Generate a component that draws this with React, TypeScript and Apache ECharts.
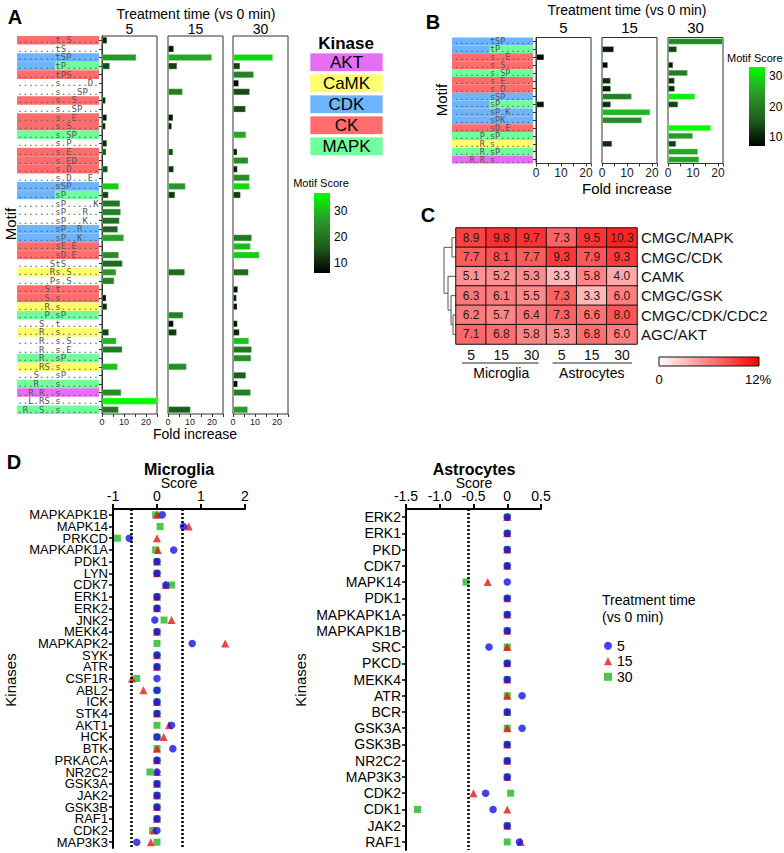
import { useEffect, useRef } from "react";
import * as echarts from "echarts";

const FF = "'Liberation Sans', Arial, Helvetica, sans-serif";
const MONO = "'DejaVu Sans Mono', 'Liberation Mono', monospace";

const kinaseNames = ["AKT", "CaMK", "CDK", "CK", "MAPK"];
const kinaseColors: Record<string, string> = {
  AKT: "#e46ff2",
  CaMK: "#ffff6e",
  CDK: "#6db5ff",
  CK: "#ff6d6d",
  MAPK: "#70ff9c",
};

// ---------- Panel A ----------
const motifsA = [
  ".......t.S.....", ".......tS......", ".......tSP.....", ".......tP......", ".......tPS.....",
  ".......s.....D.", ".......s...SP..", ".......s..S....", ".......s..SP...", ".......s..E....",
  ".......s.S.....", ".......s.SP....", ".......s.P.....", ".......s.E.....", ".......s.ED....",
  ".......s.D.....", ".......s.D...E.", ".......sSP.....", ".......sP......", ".......sP.....K",
  ".......sP...R..", ".......sP...K..", ".......sP..R...", ".......sP..K...", ".......sE.E....",
  ".......sD.E....", "......StS......", "......Rs.S.....", "......Ps.S.....", ".....S.t.......",
  ".....S.s.......", ".....R.s.......", ".....P.sP......", "....S..t.......", "....R..s.......",
  "....R..s.S.....", "....R..s.E.....", "....R..sP......", "....RS.s.......", "...S...sP......",
  "...R...s.......", "..R.R..s.......", "..L.RS.s.......", ".R..S..s.......",
];
const kinaseA = [
  "CK", "", "CDK", "CDK/MAPK", "CK",
  "", "", "CK", "", "CK",
  "CK", "MAPK", "", "CK", "CK",
  "CK", "", "CDK", "CDK/MAPK", "",
  "", "", "CDK", "CDK", "CK",
  "CK", "", "CaMK", "", "CK",
  "CK", "CaMK", "MAPK", "", "CaMK",
  "", "", "MAPK", "CaMK", "",
  "MAPK", "AKT", "", "MAPK",
];
const foldA5 = [
  2.4, null, 15.6, 3.6, null, null, null, 1.7, null, 2.3,
  1.7, null, 2.3, 2.0, null, 2.7, null, 7.7, 3.0, 8.3,
  8.6, 8.0, 7.3, 10.0, null, 7.7, 9.4, 6.5, 5.6, null,
  2.0, 2.4, null, null, 3.2, 6.6, 9.3, null, 7.1, null,
  null, 8.8, 25, 7.6,
];
const scoreA5 = [
  9, null, 26, 14, null, null, null, 9, null, 8,
  9, null, 10, 15, null, 15, null, 32, 13, 20,
  22, 19, 17, 27, null, 24, 18, 26, 22, null,
  7, 11, null, null, 13, 30, 21, null, 31, null,
  null, 24, 37, 20,
];
const foldA15 = [
  null, 2.7, 20, 4.2, null, null, 6.7, null, null, 2.4,
  1.8, null, null, 2.4, null, 2.7, null, 8.0, 3.3, null,
  null, null, null, null, null, null, null, 7.7, null, null,
  null, null, 7.0, 2.6, 4.0, null, null, null, 8.5, null,
  null, null, null, 10.3,
];
const scoreA15 = [
  null, 8, 28, 13, null, null, 22, null, null, 7,
  9, null, null, 14, null, 11, null, 26, 12, null,
  null, null, null, null, null, null, null, 18, null, null,
  null, null, 22, 6, 12, null, null, null, 24, null,
  null, null, null, 16,
];
const foldA30 = [
  null, null, 18.2, 3.3, 9.5, 2.7, 7.7, null, 5.8, null,
  null, 6.0, null, 2.0, 7.0, 2.1, 7.6, 7.6, 3.5, null,
  null, null, null, 8.6, 8.0, 12.0, null, 7.1, null, 2.3,
  1.7, 2.0, null, 2.1, 3.0, 7.3, 8.6, 8.3, null, 6.0,
  2.2, 8.1, null, 6.8,
];
const scoreA30 = [
  null, null, 33, 13, 22, 6, 14, null, 14, null,
  null, 28, null, 9, 24, 9, 24, 33, 12, null,
  null, null, null, 20, 30, 32, null, 18, null, 8,
  7, 8, null, 7, 10, 31, 20, 24, null, 16,
  6, 22, null, 27,
];

// ---------- Panel B ----------
const motifsB = [
  ".......tSP.....", ".......tP......", ".......s..E....", ".......s.S.....",
  ".......s.SP....", ".......s.E.....", ".......s.D.....", ".......sSP.....",
  ".......sP......", ".......sP.K....", ".......sPK.....", ".......sD.E....",
  ".....P.sP......", ".....R.s.......", ".....R.sP......", "...R.R.s.......",
];
const kinaseB = [
  "CDK", "CDK/MAPK", "CK", "CK", "MAPK", "CK", "CK", "CDK",
  "CDK/MAPK", "CDK", "CDK", "CK", "MAPK", "CaMK", "MAPK", "AKT",
];
const foldB5 = [null, null, 3.3, null, null, null, null, null, 3.3, null, null, null, null, null, null, null];
const scoreB5 = [null, null, 7, null, null, null, null, null, 9, null, null, null, null, null, null, null];
const foldB15 = [null, 4.8, null, 2.4, null, 3.5, 3.6, 11.9, 3.6, 19.3, 16.0, null, null, 4.1, null, null];
const scoreB15 = [null, 9, null, 7, null, 11, 9, 20, 11, 27, 22, null, null, 11, null, null];
const foldB30 = [22, 3.6, null, 2.1, 7.9, 2.7, 2.8, 10.8, 4.1, null, null, 17.2, 10.0, 3.3, 12.0, 12.5];
const scoreB30 = [22, 13, null, 9, 20, 11, 11, 32, 13, null, null, 33, 24, 13, 25, 25];

// ---------- Panel C ----------
const heatRows = ["CMGC/MAPK", "CMGC/CDK", "CAMK", "CMGC/GSK", "CMGC/CDK/CDC2", "AGC/AKT"];
const heatCols = ["5", "15", "30", "5", "15", "30"];
const heatValues = [
  [8.9, 9.8, 9.7, 7.3, 9.5, 10.3],
  [7.7, 8.1, 7.7, 9.3, 7.9, 9.3],
  [5.1, 5.2, 5.3, 3.3, 5.8, 4.0],
  [6.3, 6.1, 5.5, 7.3, 3.3, 6.0],
  [6.2, 5.7, 6.4, 7.3, 6.6, 8.0],
  [7.1, 6.8, 5.8, 5.3, 6.8, 6.0],
];

// ---------- Panel D ----------
const microKinases = [
  "MAPKAPK1B", "MAPK14", "PRKCD", "MAPKAPK1A", "PDK1", "LYN", "CDK7", "ERK1", "ERK2", "JNK2",
  "MEKK4", "MAPKAPK2", "SYK", "ATR", "CSF1R", "ABL2", "ICK", "STK4", "AKT1", "HCK",
  "BTK", "PRKACA", "NR2C2", "GSK3A", "JAK2", "GSK3B", "RAF1", "CDK2", "MAP3K3",
];
const micro5 = [0.12, 0.6, -0.63, 0.38, 0, 0, 0.2, 0, 0, -0.05, 0, 0.8, 0, 0, 0, 0, 0, 0, 0.33, 0, 0.36, 0, 0, 0, 0, 0, 0, 0, -0.46];
const micro15 = [0, 0.72, 0, 0.02, 0, 0, 0.2, 0, 0, 0.33, 0, 1.55, 0, 0, -0.57, -0.31, 0, 0, 0.27, 0.15, 0, 0, 0, 0, 0, 0, 0, -0.07, -0.14];
const micro30 = [-0.03, 0.07, -0.9, -0.03, 0, 0, 0.33, 0, 0, 0.16, 0, 0, 0, 0, -0.46, 0, 0, 0, 0, 0, 0, 0, -0.16, 0, 0, 0, 0, -0.1, 0];
const astroKinases = [
  "ERK2", "ERK1", "PKD", "CDK7", "MAPK14", "PDK1", "MAPKAPK1A", "MAPKAPK1B", "SRC", "PKCD",
  "MEKK4", "ATR", "BCR", "GSK3A", "GSK3B", "NR2C2", "MAP3K3", "CDK2", "CDK1", "JAK2", "RAF1",
];
const astro5 = [0, 0, 0, 0, 0, 0, 0, 0, -0.27, 0, 0, 0.22, 0, 0.22, 0, 0, 0, -0.32, -0.21, 0, 0.18];
const astro15 = [0, 0, 0, 0, -0.29, 0, 0, 0, 0, 0, 0, 0, 0, 0, 0, 0, 0, -0.5, 0, 0, 0.2];
const astro30 = [0, 0, 0, 0, -0.61, 0, 0, 0, 0, 0, 0, 0, 0, 0, 0, 0, 0, 0.05, -1.33, 0, 0];
const cutoff = 0.58;

const greenStops = ["#000000", "#1f5f1f", "#2a9a2a", "#00ff00"];

function barData(fold: (number | null)[], score: (number | null)[]) {
  const out: number[][] = [];
  fold.forEach((v, i) => {
    if (v != null) out.push([v, i, score[i] as number]);
  });
  return out;
}

function motifRenderer(motifs: string[], kinases: string[], nChars: number, fontSize: number) {
  return (_params: any, api: any) => {
    const i = api.value(1);
    const a = api.coord([0, i]);
    const b = api.coord([nChars, i]);
    const split = api.coord([7, i]);
    const h = api.size([0, 1])[1];
    const y0 = a[1] - h / 2;
    const children: any[] = [];
    const ks = kinases[i] ? kinases[i].split("/") : [];
    if (ks.length === 1) {
      children.push({ type: "rect", shape: { x: a[0], y: y0, width: b[0] - a[0], height: h }, style: { fill: kinaseColors[ks[0]] } });
    } else if (ks.length === 2) {
      children.push({ type: "rect", shape: { x: a[0], y: y0, width: split[0] - a[0], height: h }, style: { fill: kinaseColors[ks[0]] } });
      children.push({ type: "rect", shape: { x: split[0], y: y0, width: b[0] - split[0], height: h }, style: { fill: kinaseColors[ks[1]] } });
    }
    children.push({
      type: "text",
      style: {
        text: motifs[i], x: (a[0] + b[0]) / 2, y: a[1], align: "center", verticalAlign: "middle",
        fontFamily: MONO, fontSize, fill: "#555",
      },
    });
    return { type: "group", children };
  };
}

function txt(text: string, x: number, y: number, size: number, o: any = {}) {
  return {
    type: "text", x, y, rotation: o.rot || 0, z: 100,
    style: {
      text, fontSize: size, fontFamily: FF, fontWeight: o.bold ? "bold" : "normal",
      fill: o.color || "#000", align: o.align || "center", verticalAlign: "middle",
    },
  };
}

export default function App() {
  const ref = useRef<HTMLDivElement>(null);
  useEffect(() => {
    if (!ref.current) return;
    const chart = echarts.init(ref.current, null, { renderer: "svg" });

    const grids: any[] = [];
    const xAxes: any[] = [];
    const yAxes: any[] = [];
    const series: any[] = [];

    const addLabelGrid = (left: number, top: number, width: number, height: number, motifs: string[], kinases: string[], fs: number) => {
      const gi = grids.length;
      grids.push({ left, top, width, height, show: false });
      xAxes.push({ gridIndex: gi, type: "value", min: 0, max: 15, show: false });
      yAxes.push({ gridIndex: gi, type: "category", data: motifs.map((_, i) => String(i)), inverse: true, show: false });
      series.push({
        type: "custom", xAxisIndex: gi, yAxisIndex: gi, silent: true,
        renderItem: motifRenderer(motifs, kinases, 15, fs),
        data: motifs.map((_, i) => [0, i]), encode: { x: 0, y: 1 },
      });
    };

    const addBarGrid = (left: number, top: number, width: number, height: number, n: number, max: number, first: boolean, data: number[][], labelSize: number) => {
      const gi = grids.length;
      grids.push({ left, top, width, height, show: true, borderColor: "#333", borderWidth: 1, backgroundColor: "#fff" });
      xAxes.push({
        gridIndex: gi, type: "value", min: 0, max, interval: 5,
        axisLine: { onZero: false, lineStyle: { color: "#333", width: 1 } },
        axisTick: { show: true, length: 3, lineStyle: { color: "#333" } },
        axisLabel: { fontSize: labelSize, color: "#222", fontFamily: FF, margin: 3, formatter: (v: number) => (v % 10 === 0 ? String(v) : "") },
        splitLine: { show: false },
      });
      yAxes.push({
        gridIndex: gi, type: "category", data: Array.from({ length: n }, (_, i) => String(i)), inverse: true,
        axisLine: { show: first, onZero: false, lineStyle: { color: "#333" } },
        axisTick: { show: first, length: 3, alignWithLabel: true, interval: 0, lineStyle: { color: "#333" } },
        axisLabel: { show: false },
      });
      series.push({
        type: "bar", xAxisIndex: gi, yAxisIndex: gi, data, encode: { x: 0, y: 1 }, barWidth: "80%",
        itemStyle: { borderColor: "rgba(160,230,160,0.45)", borderWidth: 0.8 },
      });
    };

    // Panel A
    const aTop = 36, aH = 378;
    addLabelGrid(17, aTop, 82, aH, motifsA, kinaseA, 9); // series 0
    addBarGrid(102, aTop, 55, aH, motifsA.length, 25, true, barData(foldA5, scoreA5), 9); // 1
    addBarGrid(168, aTop, 55, aH, motifsA.length, 25, false, barData(foldA15, scoreA15), 9); // 2
    addBarGrid(233, aTop, 55, aH, motifsA.length, 25, false, barData(foldA30, scoreA30), 9); // 3

    // Panel B
    const bTop = 37.5, bH = 126;
    addLabelGrid(452, bTop, 81, bH, motifsB, kinaseB, 8.5); // 4
    addBarGrid(536, bTop, 55, bH, motifsB.length, 22, true, barData(foldB5, scoreB5), 12); // 5
    addBarGrid(602, bTop, 55, bH, motifsB.length, 22, false, barData(foldB15, scoreB15), 12); // 6
    addBarGrid(668, bTop, 55, bH, motifsB.length, 22, false, barData(foldB30, scoreB30), 12); // 7

    // Panel C heatmap
    const cLeft = 456, cTop = 228, cW = 181, cH = 116;
    {
      const gi = grids.length;
      grids.push({ left: cLeft, top: cTop, width: cW, height: cH, show: false });
      xAxes.push({
        gridIndex: gi, type: "category", data: heatCols, position: "bottom",
        axisLine: { show: false }, axisTick: { show: false }, splitLine: { show: false },
        axisLabel: { fontSize: 14, color: "#111", fontFamily: FF, margin: 4, interval: 0 },
      });
      yAxes.push({
        gridIndex: gi, type: "category", data: heatRows, position: "right", inverse: true,
        axisLine: { show: false }, axisTick: { show: false }, splitLine: { show: false },
        axisLabel: { fontSize: 15, color: "#111", fontFamily: FF, margin: 4, interval: 0 },
      });
      const hd: number[][] = [];
      heatValues.forEach((row, r) => row.forEach((v, c) => hd.push([c, r, v])));
      series.push({
        type: "heatmap", xAxisIndex: gi, yAxisIndex: gi, data: hd,
        label: { show: true, fontSize: 12, color: "#2a1a1a", fontFamily: FF, formatter: (p: any) => p.value[2].toFixed(1) },
        itemStyle: { borderColor: "#111", borderWidth: 1 },
      }); // 8
    }

    // Panel D
    const dTop = 509;
    const scatterGrid = (left: number, width: number, n: number, kin: string[], min: number, max: number, interval: number, fmt: (v: number) => string, v5: number[], v15: number[], v30: number[], lines: number[], labelSize: number) => {
      const gi = grids.length;
      const band = n === 29 ? 11.69 : 16.24;
      grids.push({ left, top: dTop, width, height: band * n, show: false });
      xAxes.push({
        gridIndex: gi, type: "value", position: "top", min, max, interval,
        axisLine: { show: true, onZero: false, lineStyle: { color: "#000", width: 2 } },
        axisTick: { show: true, length: 5, lineStyle: { color: "#000", width: 2 } },
        axisLabel: { fontSize: 14, color: "#000", fontFamily: FF, margin: 6, formatter: fmt },
        splitLine: { show: false },
      });
      yAxes.push({
        gridIndex: gi, type: "category", data: kin, inverse: true,
        axisLine: { show: true, onZero: false, lineStyle: { color: "#000", width: 2 } },
        axisTick: { show: true, length: 4, alignWithLabel: true, interval: 0, lineStyle: { color: "#000", width: 1.5 } },
        axisLabel: { fontSize: labelSize, lineHeight: labelSize, color: "#000", fontFamily: FF, margin: 5, interval: 0 },
        splitLine: { show: false },
      });
      const mk = (arr: number[]) => arr.map((v, i) => [v, i]);
      series.push({
        name: "30", type: "scatter", xAxisIndex: gi, yAxisIndex: gi, data: mk(v30), symbol: "rect", symbolSize: 7,
        itemStyle: { color: "#20b820" }, encode: { x: 0, y: 1 },
        markLine: {
          silent: true, symbol: ["none", "none"], label: { show: false },
          lineStyle: { color: "#000", width: 2.5, type: [2, 2] },
          data: lines.map((x) => ({ xAxis: x })),
        },
      });
      series.push({
        name: "15", type: "scatter", xAxisIndex: gi, yAxisIndex: gi, data: mk(v15), symbol: "triangle", symbolSize: 8,
        itemStyle: { color: "#ee1111" }, encode: { x: 0, y: 1 },
      });
      series.push({
        name: "5", type: "scatter", xAxisIndex: gi, yAxisIndex: gi, data: mk(v5), symbol: "circle", symbolSize: 7.5,
        itemStyle: { color: "#1212e8" }, encode: { x: 0, y: 1 },
      });
    };
    scatterGrid(113, 132, microKinases.length, microKinases, -1, 2, 1, (v) => String(v), micro5, micro15, micro30, [-cutoff, cutoff], 13);
    scatterGrid(406, 135, astroKinases.length, astroKinases, -1.5, 0.5, 0.5, (v) => (v === 0 ? "0" : v.toFixed(1)), astro5, astro15, astro30, [-cutoff], 14);

    // graphics
    const g: any[] = [];
    // Panel A texts
    g.push(txt("A", 15, 17, 20, { bold: true }));
    g.push(txt("Treatment time (vs 0 min)", 196, 14, 14));
    g.push(txt("5", 129.5, 29, 14), txt("15", 195.5, 29, 14), txt("30", 260.5, 29, 14));
    g.push(txt("Motif", 10, 224, 15, { rot: Math.PI / 2 }));
    g.push(txt("Fold increase", 195, 434, 14));
    // Kinase legend
    g.push(txt("Kinase", 346, 43, 17, { bold: true }));
    kinaseNames.forEach((k, i) => {
      const y = 53 + i * 21;
      g.push({ type: "rect", shape: { x: 310, y, width: 73, height: 18.5 }, style: { fill: kinaseColors[k], stroke: "rgba(255,255,255,0.7)", lineWidth: 1 } });
      g.push(txt(k, 346.5, y + 9.5, 17));
    });
    // A colour bar
    const aMin = 6, aMax = 37, aBarTop = 193, aBarH = 80;
    g.push(txt("Motif Score", 321, 183, 11));
    g.push({
      type: "rect", shape: { x: 314, y: aBarTop, width: 16, height: aBarH },
      style: {
        fill: { type: "linear", x: 0, y: 0, x2: 0, y2: 1, colorStops: greenStops.slice().reverse().map((c, i, arr) => ({ offset: i / (arr.length - 1), color: c })) },
      },
    });
    [30, 20, 10].forEach((v) => g.push(txt(String(v), 334, aBarTop + aBarH - ((v - aMin) / (aMax - aMin)) * aBarH, 12, { align: "left" })));

    // Panel B texts
    g.push(txt("B", 433, 22, 20, { bold: true }));
    g.push(txt("Treatment time (vs 0 min)", 627, 10, 14));
    g.push(txt("5", 563.5, 27, 15), txt("15", 629.5, 27, 15), txt("30", 695.5, 27, 15));
    g.push(txt("Motif", 441, 100, 15, { rot: Math.PI / 2 }));
    g.push(txt("Fold increase", 627, 188, 15));
    const bMin = 7, bMax = 33, bBarTop = 67, bBarH = 79;
    g.push(txt("Motif Score", 727, 58, 11, { align: "left" }));
    g.push({
      type: "rect", shape: { x: 749, y: bBarTop, width: 16, height: bBarH },
      style: {
        fill: { type: "linear", x: 0, y: 0, x2: 0, y2: 1, colorStops: greenStops.slice().reverse().map((c, i, arr) => ({ offset: i / (arr.length - 1), color: c })) },
      },
    });
    [30, 20, 10].forEach((v) => g.push(txt(String(v), 769, bBarTop + bBarH - ((v - bMin) / (bMax - bMin)) * bBarH, 12, { align: "left" })));

    // Panel C extras
    g.push(txt("C", 428, 215, 20, { bold: true }));
    const rowH = cH / heatRows.length;
    const ry = (i: number) => cTop + (i + 0.5) * rowH;
    const m01 = (ry(0) + ry(1)) / 2;
    const m45 = (ry(4) + ry(5)) / 2;
    const m345 = (ry(3) + m45) / 2;
    const m2345 = (ry(2) + m345) / 2;
    const dl = (pts: number[][]) => ({ type: "polyline", shape: { points: pts }, style: { stroke: "#555", lineWidth: 1, fill: "none" } });
    g.push(dl([[cLeft, ry(0)], [452, ry(0)], [452, ry(1)], [cLeft, ry(1)]]));
    g.push(dl([[cLeft, ry(4)], [453, ry(4)], [453, ry(5)], [cLeft, ry(5)]]));
    g.push(dl([[cLeft, ry(3)], [451, ry(3)], [451, m45], [453, m45]]));
    g.push(dl([[cLeft, ry(2)], [448, ry(2)], [448, m345], [451, m345]]));
    g.push(dl([[452, m01], [444, m01], [444, m2345], [448, m2345]]));
    const colW = cW / heatCols.length;
    g.push({ type: "line", shape: { x1: cLeft + 6, y1: 363, x2: cLeft + colW * 3 - 8, y2: 363 }, style: { stroke: "#222", lineWidth: 1 } });
    g.push({ type: "line", shape: { x1: cLeft + colW * 3 + 6, y1: 363, x2: cLeft + cW - 5, y2: 363 }, style: { stroke: "#222", lineWidth: 1 } });
    g.push(txt("Microglia", cLeft + colW * 1.5, 373, 14));
    g.push(txt("Astrocytes", cLeft + colW * 4.5, 373, 14));
    g.push({
      type: "rect", shape: { x: 659, y: 357, width: 100, height: 9 },
      style: { fill: { type: "linear", x: 0, y: 0, x2: 1, y2: 0, colorStops: [{ offset: 0, color: "#ffffff" }, { offset: 1, color: "#ff0000" }] }, stroke: "#111", lineWidth: 1 },
    });
    g.push(txt("0", 659, 379, 13), txt("12%", 758, 379, 13));

    // Panel D extras
    g.push(txt("D", 14, 462, 20, { bold: true }));
    g.push(txt("Microglia", 179, 469, 16, { bold: true }));
    g.push(txt("Score", 179, 483, 14));
    g.push(txt("Kinases", 10, 680, 15, { rot: Math.PI / 2 }));
    g.push(txt("Astrocytes", 474, 469, 16, { bold: true }));
    g.push(txt("Score", 474, 483, 14));
    g.push(txt("Kinases", 300, 680, 15, { rot: Math.PI / 2 }));
    g.push(txt("Treatment time", 602, 600, 14, { align: "left" }));
    g.push(txt("(vs 0 min)", 602, 617, 14, { align: "left" }));

    chart.setOption({
      animation: false,
      backgroundColor: "#fff",
      textStyle: { fontFamily: FF },
      grid: grids,
      xAxis: xAxes,
      yAxis: yAxes,
      series,
      visualMap: [
        { type: "continuous", show: false, seriesIndex: [1, 2, 3], dimension: 2, min: aMin, max: aMax, inRange: { color: greenStops } },
        { type: "continuous", show: false, seriesIndex: [5, 6, 7], dimension: 2, min: bMin, max: bMax, inRange: { color: greenStops } },
        { type: "continuous", show: false, seriesIndex: 8, dimension: 2, min: 0, max: 12, inRange: { color: ["#ffffff", "#ff0000"] } },
      ],
      legend: {
        data: ["5", "15", "30"], orient: "vertical", left: 599, top: 633, itemWidth: 8, itemHeight: 8, itemGap: 0,
        textStyle: { fontSize: 14, color: "#000", fontFamily: FF, lineHeight: 15.5 }, selectedMode: false,
      },
      graphic: g,
    });
    return () => chart.dispose();
  }, []);
  return <div ref={ref} style={{ position: "absolute", left: 0, top: 0, width: 784, height: 853 }} />;
}
